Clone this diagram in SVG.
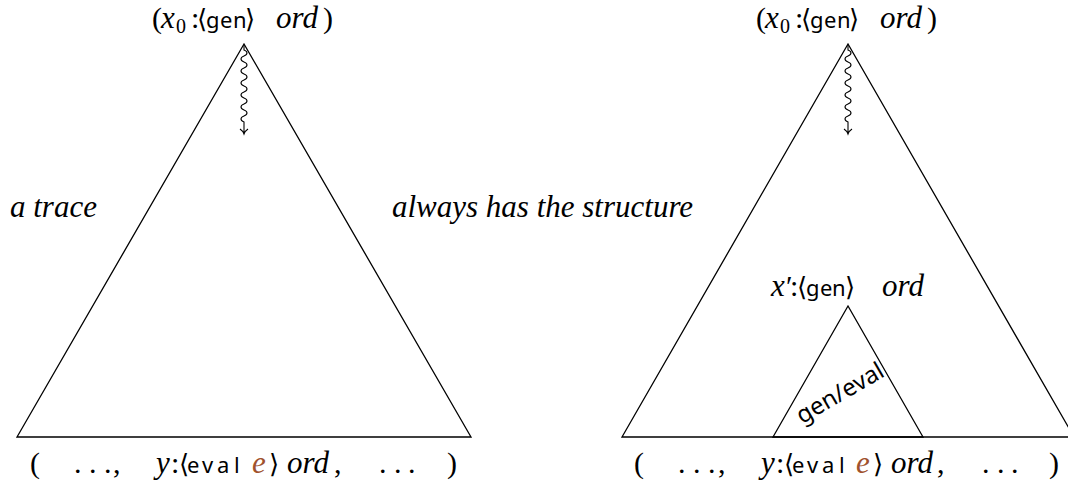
<svg xmlns="http://www.w3.org/2000/svg" width="1068" height="489" viewBox="0 0 1068 489">
<defs>
<path id="squiggle" d="M0,45 L0,50 c4,1.5 4,4.5 0,6 c-4,1.5 -4,4.5 0,6 c4,1.5 4,4.5 0,6 c-4,1.5 -4,4.5 0,6 c4,1.5 4,4.5 0,6 c-4,1.5 -4,4.5 0,6 c4,1.5 4,4.5 0,6 c-4,1.5 -4,4.5 0,6 c4,1.5 4,4.5 0,6 c-4,1.5 -4,4.5 0,6 c4,1.5 4,4.5 0,6 c-4,1.5 -4,4.5 0,6 L0,134 M-4,129 Q-1,131 0,134 Q1,131 4,129" fill="none" stroke="#000" stroke-width="1.1"/>
</defs>
<text font-family="Times New Roman" font-style="italic" font-size="31" x="10" y="217">a trace</text>
<text font-family="Times New Roman" font-style="italic" font-size="31" x="392" y="217">always has the structure</text>

<g id="tree-left">
<path fill="none" stroke="#000" stroke-width="1.3" d="M244,44 L17,437 L471,437 Z"/>
<text font-family="Times New Roman" font-size="30" y="28"><tspan x="152">(</tspan><tspan font-style="italic" font-size="31" x="161">x</tspan><tspan font-size="20" x="176" y="33">0</tspan><tspan x="191" y="28">:</tspan><tspan font-family="DejaVu Sans" font-size="26" x="197">⟨</tspan><tspan font-family="Noto Sans" font-size="22" x="206 220 233">gen</tspan><tspan font-family="DejaVu Sans" font-size="26" x="245">⟩</tspan><tspan font-style="italic" font-size="31" x="276">ord</tspan><tspan x="323">)</tspan></text>
<text font-family="Times New Roman" font-size="30" y="473"><tspan x="30">(</tspan><tspan x="74 89 104">...</tspan><tspan x="113">,</tspan><tspan font-style="italic" font-size="31" x="156">y</tspan><tspan x="171">:</tspan><tspan font-family="DejaVu Sans" font-size="26" x="179">⟨</tspan><tspan font-family="Noto Sans" font-size="22" x="187 202 217 234">eval</tspan><tspan fill="#A0522D" font-style="italic" font-size="31" x="252">e</tspan><tspan font-family="DejaVu Sans" font-size="26" x="269">⟩</tspan><tspan font-style="italic" font-size="31" x="287">ord</tspan><tspan x="334">,</tspan><tspan x="379 394 408">...</tspan><tspan x="447">)</tspan></text>
</g>

<g id="tree-right">
<path fill="none" stroke="#000" stroke-width="1.3" d="M848,44 L622,437 L1074,437 Z"/>
<text font-family="Times New Roman" font-size="30" y="28"><tspan x="756">(</tspan><tspan font-style="italic" font-size="31" x="765">x</tspan><tspan font-size="20" x="780" y="33">0</tspan><tspan x="795" y="28">:</tspan><tspan font-family="DejaVu Sans" font-size="26" x="801">⟨</tspan><tspan font-family="Noto Sans" font-size="22" x="810 824 837">gen</tspan><tspan font-family="DejaVu Sans" font-size="26" x="849">⟩</tspan><tspan font-style="italic" font-size="31" x="880">ord</tspan><tspan x="927">)</tspan></text>
<text font-family="Times New Roman" font-size="30" y="473"><tspan x="634">(</tspan><tspan x="678 693 708">...</tspan><tspan x="718">,</tspan><tspan font-style="italic" font-size="31" x="761">y</tspan><tspan x="776">:</tspan><tspan font-family="DejaVu Sans" font-size="26" x="784">⟨</tspan><tspan font-family="Noto Sans" font-size="22" x="792 807 822 839">eval</tspan><tspan fill="#A0522D" font-style="italic" font-size="31" x="856">e</tspan><tspan font-family="DejaVu Sans" font-size="26" x="873">⟩</tspan><tspan font-style="italic" font-size="31" x="891">ord</tspan><tspan x="937">,</tspan><tspan x="982 997 1011">...</tspan><tspan x="1049">)</tspan></text>
</g>

<g id="subtree">
<path fill="none" stroke="#000" stroke-width="1.3" d="M848,306 L773,437 L923,437 Z"/>
<text font-family="Times New Roman" font-size="30" y="296"><tspan font-style="italic" font-size="31" x="771">x</tspan><tspan x="786">′</tspan><tspan x="790">:</tspan><tspan font-family="DejaVu Sans" font-size="26" x="797">⟨</tspan><tspan font-family="Noto Sans" font-size="22" x="806 820 832">gen</tspan><tspan font-family="DejaVu Sans" font-size="26" x="845">⟩</tspan><tspan font-style="italic" font-size="31" x="882">ord</tspan></text>
<text font-family="Noto Sans" font-size="24" text-anchor="middle" transform="translate(844,400) rotate(-30)" x="0" y="0">gen/eval</text>
</g>

<g id="connectors">
<use href="#squiggle" x="244"/>
<use href="#squiggle" x="848"/>
</g>
</svg>
